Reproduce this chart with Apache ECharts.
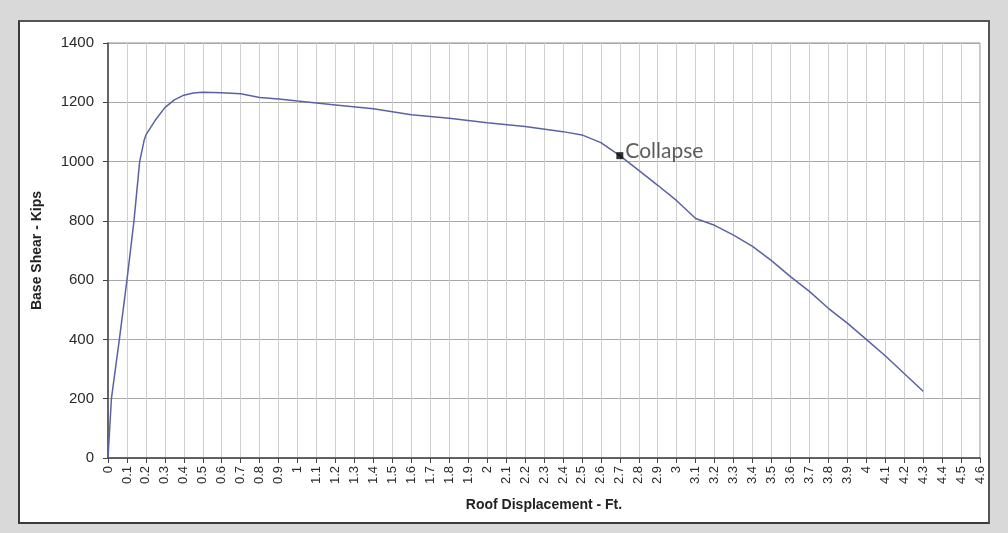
<!DOCTYPE html>
<html>
<head>
<meta charset="utf-8">
<script src="https://cdn.jsdelivr.net/npm/echarts@6/dist/echarts.min.js"></script>
<style>
  html, body { margin: 0; padding: 0; background: #d9d9d9; }
  #wrap { position: relative; width: 1008px; height: 533px; background: #d9d9d9; }
  #panel { position: absolute; left: 18px; top: 20px; width: 968px; height: 500px; background: #fff; border: 2px solid #3a3a3a; border-top-color: #555; border-right-color: #555; }
  #chart { position: absolute; left: 0; top: 0; width: 1008px; height: 533px; }
</style>
</head>
<body>
<div id="wrap">
  <div id="panel"></div>
  <div id="chart"></div>
</div>
<script>
// Roof displacement (ft) and base shear (kips)
const displacement = [0, 0.018, 0.06, 0.1, 0.137, 0.167, 0.19, 0.2, 0.25, 0.3, 0.35, 0.4, 0.45, 0.5, 0.6, 0.7, 0.8, 0.9, 1.0, 1.2, 1.4, 1.6, 1.8, 2.0, 2.2, 2.4, 2.5, 2.6, 2.7, 2.8, 2.9, 3.0, 3.1, 3.2, 3.3, 3.4, 3.5, 3.6, 3.7, 3.8, 3.9, 4.0, 4.1, 4.2, 4.3];
const baseShear    = [0, 200, 400, 600, 800, 1000, 1070, 1090, 1140, 1182, 1208, 1224, 1231, 1234, 1232, 1229, 1216, 1211, 1204, 1191, 1178, 1158, 1146, 1131, 1118, 1101, 1090, 1064, 1020, 970, 920, 868, 808, 785, 752, 714, 666, 612, 562, 505, 455, 400, 345, 285, 225];
const collapsePoint = [2.7, 1020];
const collapseLabel = 'Collapse';
const xTickLabels = ['0','0.1','0.2','0.3','0.4','0.5','0.6','0.7','0.8','0.9','1','1.1','1.2','1.3','1.4','1.5','1.6','1.7','1.8','1.9','2','2.1','2.2','2.3','2.4','2.5','2.6','2.7','2.8','2.9','3','3.1','3.2','3.3','3.4','3.5','3.6','3.7','3.8','3.9','4','4.1','4.2','4.3','4.4','4.5','4.6'];
const yTickLabels = ['0','200','400','600','800','1000','1200','1400'];
const xTitle = 'Roof Displacement - Ft.';
const yTitle = 'Base Shear - Kips';

const curve = displacement.map((d, i) => [d, baseShear[i]]);

const chart = echarts.init(document.getElementById('chart'), null, { renderer: 'canvas' });
chart.setOption({
  backgroundColor: 'transparent',
  animation: false,
  grid: { left: 108, right: 28, top: 43, bottom: 75, show: true, borderColor: '#8c8c8c', borderWidth: 1 },
  xAxis: {
    type: 'value', min: 0, max: 4.6, interval: 0.1,
    name: xTitle, nameLocation: 'middle', nameGap: 40,
    nameTextStyle: { fontFamily: 'Liberation Sans', fontSize: 14, fontWeight: 'bold', color: '#222' },
    axisLine: { show: true, onZero: false, lineStyle: { color: '#444', width: 1.5 } },
    axisTick: { show: true, length: 5, lineStyle: { color: '#444' } },
    axisLabel: {
      rotate: 90, margin: 8, fontFamily: 'Liberation Sans', fontSize: 13, color: '#2a2a2a',
      showMinLabel: true, showMaxLabel: true,
      formatter: v => xTickLabels[Math.round(v * 10)]
    },
    splitLine: { show: true, lineStyle: { color: '#cfcfcf', width: 1 } }
  },
  yAxis: {
    type: 'value', min: 0, max: 1400, interval: 200,
    name: yTitle, nameLocation: 'middle', nameGap: 64,
    nameTextStyle: { fontFamily: 'Liberation Sans', fontSize: 14, fontWeight: 'bold', color: '#222' },
    axisLine: { show: true, lineStyle: { color: '#444', width: 1.5 } },
    axisTick: { show: true, length: 5, lineStyle: { color: '#444' } },
    axisLabel: {
      margin: 14, fontFamily: 'Liberation Sans', fontSize: 15, color: '#2a2a2a',
      formatter: v => yTickLabels[Math.round(v / 200)]
    },
    splitLine: { show: true, lineStyle: { color: '#a8a8a8', width: 1 } }
  },
  series: [
    {
      type: 'line', data: curve, symbol: 'none', smooth: false,
      lineStyle: { color: '#5a62a6', width: 1.5 }, z: 3
    },
    {
      type: 'scatter', data: [collapsePoint], symbol: 'rect', symbolSize: 7,
      itemStyle: { color: '#000' }, z: 4,
      label: {
        show: true, position: 'right', distance: 2, offset: [0, -4],
        formatter: collapseLabel, fontFamily: 'Lato', fontSize: 21, color: '#333'
      }
    }
  ]
});
</script>
</body>
</html>
